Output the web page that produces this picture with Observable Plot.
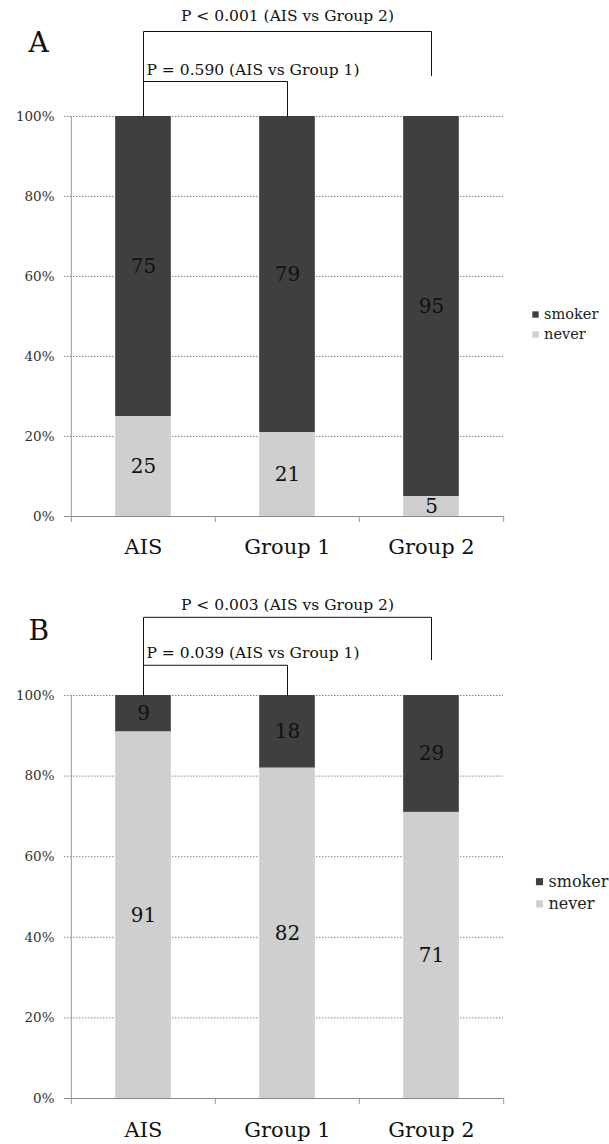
<!DOCTYPE html>
<html>
<head>
<meta charset="utf-8">
<script src="https://cdn.jsdelivr.net/npm/d3@7"></script>
<script src="https://cdn.jsdelivr.net/npm/@observablehq/plot@0.6"></script>
<style>
  html, body { margin: 0; padding: 0; background: #fff; }
  #chart { width: 609px; }
  #chart svg { display: block; }
</style>
</head>
<body>
<div id="chart"></div>
<script>
// ---- data ----
const categories = ["AIS", "Group 1", "Group 2"];
const seriesNames = ["never", "smoker"];          // stacking order, bottom to top
const legendOrder = ["smoker", "never"];
const neverA = [25, 21, 5];
const smokerA = [75, 79, 95];
const neverB = [91, 82, 71];
const smokerB = [9, 18, 29];
const yTicks = [0, 20, 40, 60, 80, 100];
const pLabelsA = ["P = 0.590 (AIS vs Group 1)", "P < 0.001 (AIS vs Group 2)"];
const pLabelsB = ["P = 0.039 (AIS vs Group 1)", "P < 0.003 (AIS vs Group 2)"];
const panelLetters = ["A", "B"];

// ---- styling ----
const FONT = "'DejaVu Serif', 'Liberation Serif', serif";
const colors = {smoker: "#3f3f3f", never: "#cfcfcf"};
const W = 609, ML = 70, MR = 106;
const step = (W - ML - MR) / categories.length;
const barInset = (step - 56) / 2;

function buildRows(never, smoker) {
  const rows = [];
  categories.forEach((c, i) => {
    let base = 0;
    for (const s of seriesNames) {
      const v = s === "never" ? never[i] : smoker[i];
      rows.push({cat: c, series: s, value: v, y1: base, y2: base + v, mid: base + v / 2});
      base += v;
    }
  });
  return rows;
}

function panel(letter, never, smoker, pLabels, L) {
  const rows = buildRows(never, smoker);
  const brackets = [
    {id: "inner", pts: [[categories[0], 100], [categories[0], L.innerTop], [categories[1], L.innerTop], [categories[1], 100]]},
    {id: "outer", pts: [[categories[0], 100], [categories[0], L.outerTop], [categories[2], L.outerTop], [categories[2], L.outerRight]]}
  ].flatMap(b => b.pts.map(p => ({id: b.id, x: p[0], y: p[1]})));
  const legendRows = legendOrder.map((s, i) => ({series: s, y: L.legend[i]}));
  const edges = categories.map((c, i) => ({cat: c, dx: -step / 2}))
    .concat([{cat: categories[categories.length - 1], dx: step / 2}]);

  return Plot.plot({
    width: W,
    height: L.height,
    marginTop: L.marginTop,
    marginBottom: L.marginBottom,
    marginLeft: ML,
    marginRight: MR,
    style: {fontFamily: FONT, color: "#222", background: "#fff", overflow: "visible"},
    x: {domain: categories, padding: 0, axis: null},
    y: {domain: [0, 100], axis: null},
    color: {domain: Object.keys(colors), range: Object.values(colors)},
    marks: [
      // gridlines
      Plot.ruleY(yTicks.filter(d => d > 0), {stroke: "#888", strokeWidth: 1, strokeDasharray: "1.5,1.5", insetLeft: -6}),
      Plot.ruleY([0], {stroke: "#888", strokeWidth: 1, insetLeft: -6}),
      // y axis line and category tick marks
      Plot.ruleX([categories[0]], {dx: -step / 2, y1: 0, y2: 100, stroke: "#999", strokeWidth: 1}),
      ...edges.map(e => Plot.ruleX([e.cat], {dx: e.dx, y1: 0, y2: -1.5, stroke: "#999", strokeWidth: 1})),
      // bars
      Plot.barY(rows, {x: "cat", y1: "y1", y2: "y2", fill: "series", insetLeft: barInset, insetRight: barInset}),
      // value labels
      Plot.text(rows, {x: "cat", y: "mid", text: d => String(d.value), fontSize: 20, fill: "#111", stroke: "none"}),
      // y tick labels
      Plot.text(yTicks, {y: d => d, text: d => d + "%", frameAnchor: "left", textAnchor: "end", dx: -16, fontSize: 13.5, fill: "#333"}),
      // x tick labels
      Plot.text(categories, {x: d => d, frameAnchor: "bottom", dy: L.xLabelDy, text: d => d, fontSize: 21, fill: "#111"}),
      // significance brackets
      Plot.line(brackets, {x: "x", y: "y", z: "id", stroke: "#111", strokeWidth: 1}),
      Plot.text([pLabels[1]], {x: () => categories[1], y: () => L.outerText, text: d => d, fontSize: 15.5, fill: "#111"}),
      Plot.text([pLabels[0]], {x: () => categories[0], y: () => L.innerText, text: d => d, textAnchor: "start", dx: 3, fontSize: 15.5, fill: "#111"}),
      // panel letter
      Plot.text([letter], {y: () => L.letterY, frameAnchor: "left", dx: -42, text: d => d, fontSize: 28, fill: "#111"}),
      // legend
      Plot.dot(legendRows, {x: () => categories[2], y: "y", dx: L.legendDx, symbol: "square", r: L.legendR, fill: "series", stroke: "none"}),
      Plot.text(legendRows, {x: () => categories[2], y: "y", dx: L.legendDx + L.legendR + 5, text: "series", textAnchor: "start", fontSize: L.legendFont, fill: "#222"})
    ]
  });
}

const layoutA = {height: 572, marginTop: 116, marginBottom: 56, outerText: 125, outerTop: 121.25, outerRight: 110.25,
  innerText: 111.5, innerTop: 108.75, letterY: 118.25, legend: [50.5, 45.5], legendDx: 104, legendR: 3.6, legendFont: 14.5, xLabelDy: 37};
const layoutB = {height: 572, marginTop: 123, marginBottom: 46, outerText: 122.5, outerTop: 119.4, outerRight: 108.9,
  innerText: 110.5, innerTop: 107.5, letterY: 116, legend: [53.8, 48.3], legendDx: 108, legendR: 4, legendFont: 16, xLabelDy: 38};

const chart = document.getElementById("chart");
chart.appendChild(panel(panelLetters[0], neverA, smokerA, pLabelsA, layoutA));
chart.appendChild(panel(panelLetters[1], neverB, smokerB, pLabelsB, layoutB));
</script>
</body>
</html>
